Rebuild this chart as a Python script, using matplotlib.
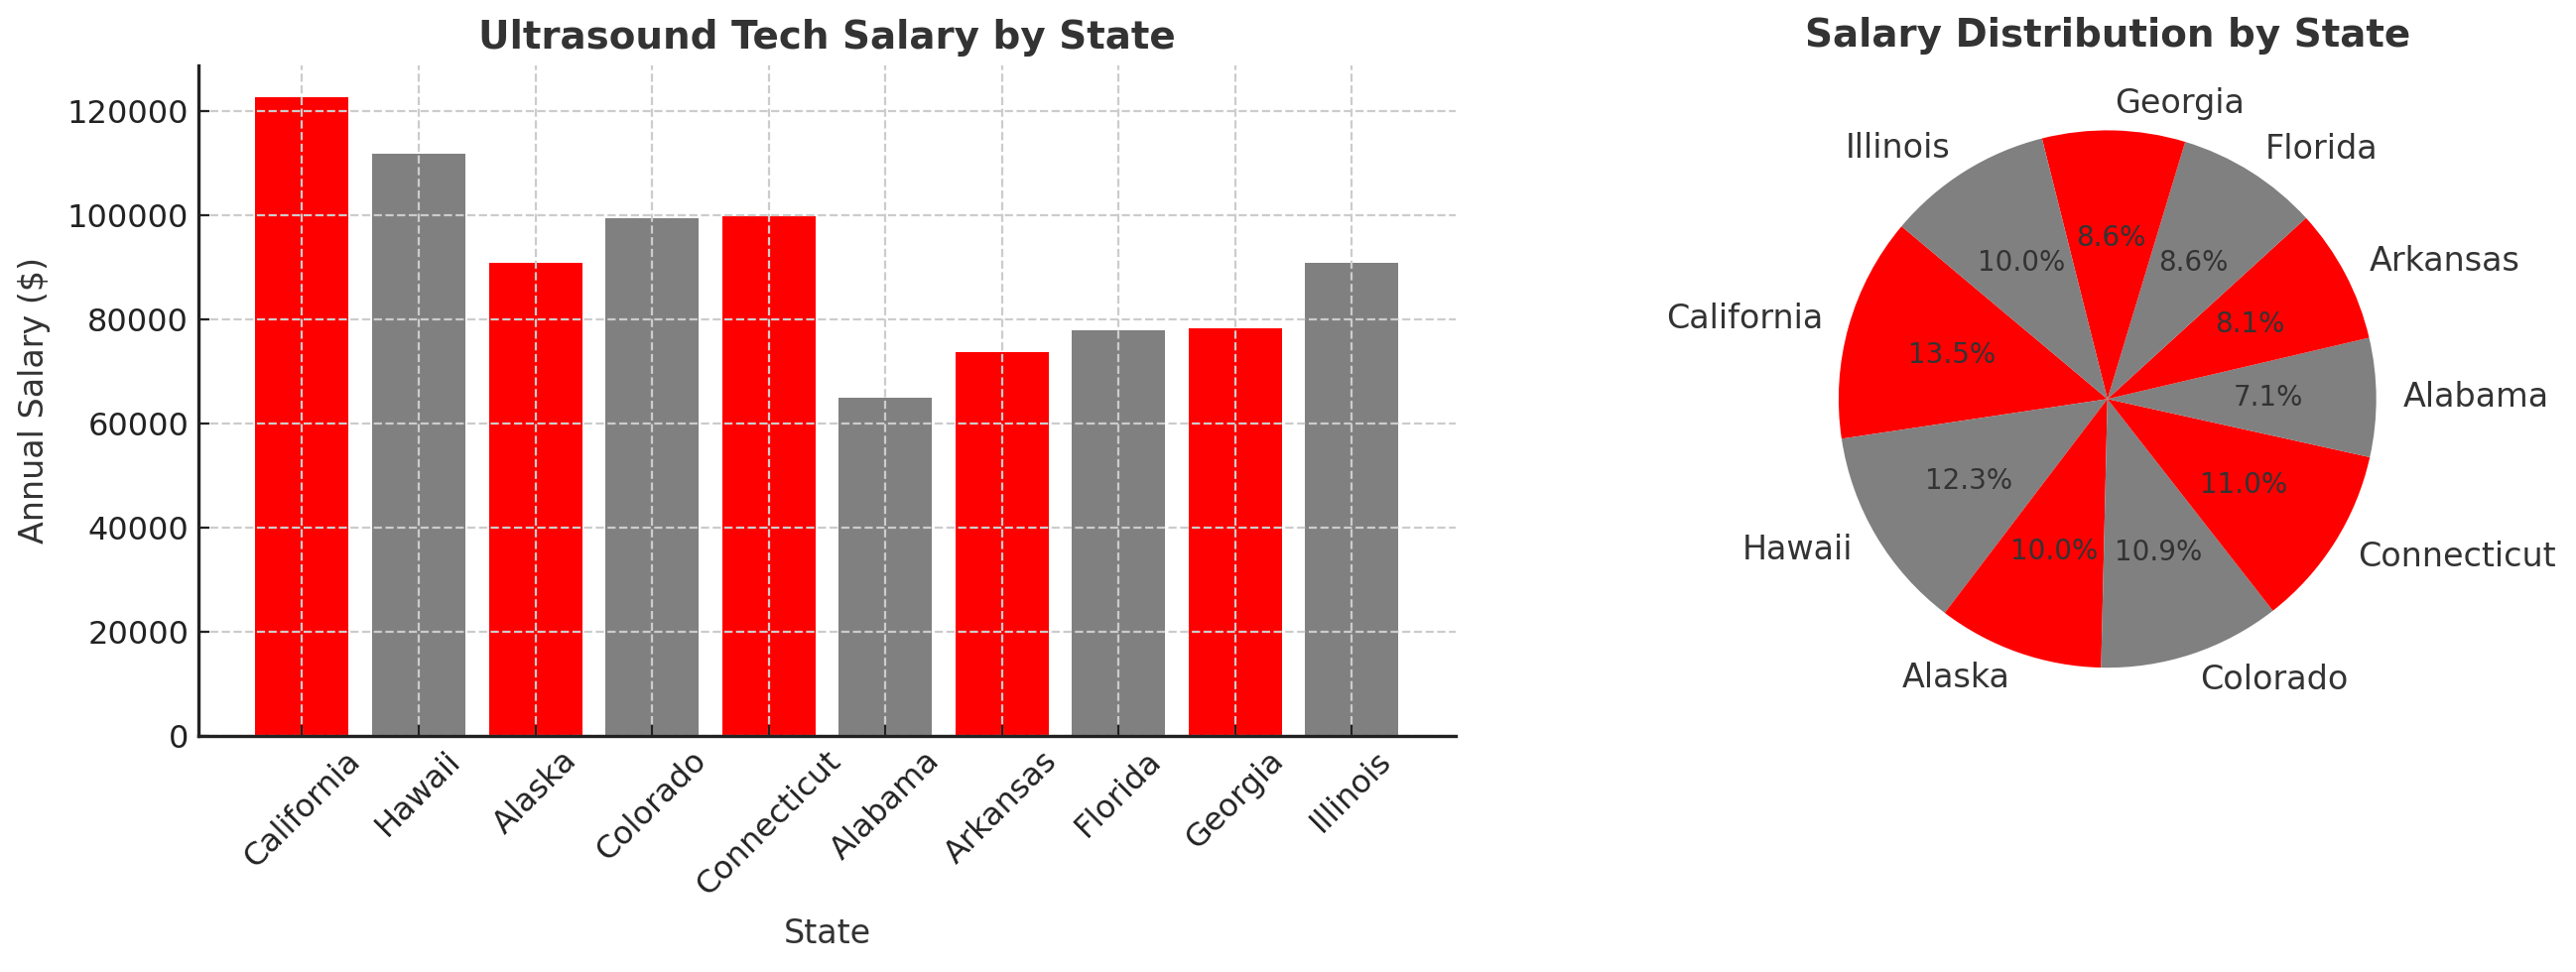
import matplotlib
matplotlib.use("Agg")
import matplotlib.pyplot as plt

states = ["California", "Hawaii", "Alaska", "Colorado", "Connecticut",
          "Alabama", "Arkansas", "Florida", "Georgia", "Illinois"]
salaries = [122700, 111900, 90800, 99500, 99900, 65000, 73800, 77950, 78200, 90800]
colors = ["#ff0000", "#808080"] * 5

text_col = "#333333"

def make_chart():
    fig = plt.figure(figsize=(12.98, 4.9), dpi=200)

    # bar chart on the left
    ax1 = fig.add_axes([0.077, 0.243, 0.488, 0.69])
    ax1.bar(states, salaries, color=colors, width=0.8)
    ax1.set_title("Ultrasound Tech Salary by State", fontsize=14,
                  fontweight="bold", color=text_col)
    ax1.set_xlabel("State", fontsize=12, color=text_col, labelpad=6)
    ax1.set_ylabel("Annual Salary ($)", fontsize=12, color=text_col, labelpad=6)
    ax1.tick_params(axis="both", direction="in", labelsize=11.5,
                    colors="#222222", length=4)
    plt.setp(ax1.get_xticklabels(), rotation=45)
    ax1.grid(True, linestyle="--", color="#cccccc", linewidth=0.8)
    ax1.set_axisbelow(False)
    for side in ["top", "right"]:
        ax1.spines[side].set_visible(False)
    for side in ["left", "bottom"]:
        ax1.spines[side].set_color("#222222")
        ax1.spines[side].set_linewidth(1.2)
        ax1.spines[side].set_zorder(5)

    # pie chart on the right
    ax2 = fig.add_axes([0.6876, 0.244, 0.261, 0.691])
    wedges, texts, autotexts = ax2.pie(salaries, labels=states, colors=colors,
                                       autopct="%1.1f%%", startangle=140,
                                       textprops={"fontsize": 12, "color": text_col})
    for t in autotexts:
        t.set_fontsize(10)
    ax2.set_title("Salary Distribution by State", fontsize=14,
                  fontweight="bold", color=text_col)

    fig.savefig("out.png", dpi=200)

if __name__ == "__main__":
    make_chart()
